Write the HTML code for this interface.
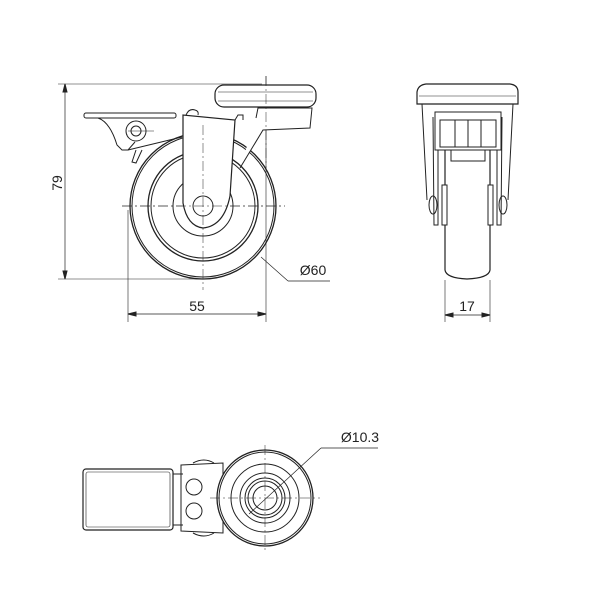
<!DOCTYPE html>
<html><head><style>body{margin:0;background:#fff}</style></head><body>
<svg width="600" height="600" viewBox="0 0 600 600" xmlns="http://www.w3.org/2000/svg" font-family="Liberation Sans, sans-serif">
<g fill="none" stroke="#222" stroke-width="1">
<!-- SIDE VIEW -->
<line x1="58" y1="84" x2="262" y2="84" stroke-width="0.6"/>
<line x1="58" y1="279" x2="200" y2="279" stroke-width="0.6"/>
<line x1="65" y1="84" x2="65" y2="279" stroke-width="0.7"/>
<path d="M65 84 l-2 8 h4z M65 279 l-2 -8 h4z" fill="#222"/>
<line x1="128" y1="210" x2="128" y2="322" stroke-width="0.6"/>
<line x1="266" y1="76" x2="266" y2="322" stroke-width="0.6"/>
<line x1="128" y1="314" x2="266" y2="314" stroke-width="0.7"/>
<path d="M128 314 l8 -2 v4z M266 314 l-8 -2 v4z" fill="#222"/>
<line x1="261" y1="257" x2="288" y2="281" stroke-width="0.7"/>
<line x1="288" y1="281" x2="330" y2="281" stroke-width="0.7"/>
<circle cx="203" cy="206" r="73" stroke-width="1.3"/>
<circle cx="203" cy="206" r="71"/>
<circle cx="203" cy="206" r="55" stroke-width="1.3"/>
<circle cx="203" cy="206" r="52"/>
<circle cx="203" cy="206" r="30"/>
<line x1="122" y1="206" x2="285" y2="206" stroke-width="0.5" stroke-dasharray="10,3,2,3"/>
<!-- neck -->
<path d="M256 118 L258 108 L312 108 L310 128 L263 130 L240 168" fill="#fff"/>
<!-- fork -->
<path d="M183 115 L183 203 Q187 226 203 228 Q224 226 230 196 L235 120 Z" fill="#fff" stroke-width="1.2"/>
<path d="M235 120 L238 115 L243 115 L243 120"/>
<circle cx="203" cy="206" r="10" fill="#fff"/>
<line x1="203" y1="125" x2="203" y2="290" stroke-width="0.5" stroke-dasharray="10,3,2,3"/>
<line x1="122" y1="206" x2="285" y2="206" stroke-width="0.5" stroke-dasharray="10,3,2,3"/>
<rect x="215" y="85" width="101" height="22" rx="9" fill="#fff" stroke-width="1.2"/>
<line x1="218" y1="92" x2="313" y2="92" stroke-width="0.6"/>
<line x1="218" y1="101" x2="313" y2="101" stroke-width="0.6"/>
<line x1="266" y1="76" x2="266" y2="170" stroke-width="0.5" stroke-dasharray="10,3,2,3"/>
<!-- brake -->
<rect x="84" y="113" width="92" height="5" rx="2" fill="#fff"/>
<path d="M98 118 Q110 122 117 145 L122 150 L128 150 L135 142" />
<path d="M128 150 L182 137"/>
<circle cx="136" cy="131" r="10"/>
<circle cx="136" cy="131" r="5"/>
<line x1="128" y1="131" x2="154" y2="131" stroke-width="0.5"/>
<path d="M186 115 Q189 108 195 110 Q199 111 198 115"/>
<path d="M136 150 L132 162 L136 163 L142 150"/>
<!-- FRONT VIEW -->
<path d="M445 150 L445 270 Q446 278 467 279 Q489 278 490 270 L490 150" fill="#fff" stroke-width="1.2"/>
<path d="M417 104 L417 92 Q418 85 426 84 L510 84 Q518 85 518 92 L518 104 Z" stroke-width="1.2"/>
<line x1="419" y1="96" x2="516" y2="96" stroke-width="0.6"/>
<path d="M422 104 L427 200 M513 104 L508 200"/>
<path d="M433 117 L434 225 L438 225 L438 150 M502 117 L501 225 L497 225 L497 150"/>
<rect x="435" y="112" width="66" height="38" />
<rect x="440" y="120" width="56" height="27" />
<line x1="455" y1="120" x2="455" y2="147"/><line x1="481" y1="120" x2="481" y2="147"/>
<line x1="468" y1="120" x2="468" y2="147"/>
<rect x="451" y="150" width="34" height="11"/>
<rect x="442" y="185" width="5" height="40" fill="#fff"/>
<rect x="488" y="185" width="5" height="40" fill="#fff"/>
<ellipse cx="433" cy="205" rx="4" ry="9"/><ellipse cx="503" cy="205" rx="4" ry="9"/>
<line x1="445" y1="280" x2="445" y2="322" stroke-width="0.6"/>
<line x1="490" y1="280" x2="490" y2="322" stroke-width="0.6"/>
<line x1="445" y1="315" x2="490" y2="315" stroke-width="0.7"/>
<path d="M445 315 l8 -2 v4z M490 315 l-8 -2 v4z" fill="#222"/>
<!-- BOTTOM VIEW -->
<rect x="83" y="469" width="90" height="61" rx="3" stroke-width="1.2"/>
<rect x="86" y="472" width="84" height="55" rx="2" stroke-width="0.6"/>
<path d="M173 474 L183 474 M173 525 L183 525"/>
<path d="M181 465 L223 463 L223 533 L181 531 Z" stroke-width="1"/>
<circle cx="194" cy="487" r="8"/><circle cx="194" cy="511" r="8"/>
<path d="M193 463 Q204 457 214 463 M193 533 Q204 539 214 533"/>
<circle cx="265" cy="498" r="48" fill="#fff" stroke-width="1.3"/>
<circle cx="265" cy="498" r="46"/>
<circle cx="265" cy="498" r="34"/>
<circle cx="265" cy="498" r="25"/>
<circle cx="265" cy="498" r="20"/>
<circle cx="265" cy="498" r="17"/>
<circle cx="265" cy="498" r="12"/>
<line x1="210" y1="498" x2="320" y2="498" stroke-width="0.5" stroke-dasharray="10,3,2,3"/>
<line x1="265" y1="445" x2="265" y2="552" stroke-width="0.5" stroke-dasharray="10,3,2,3"/>
<line x1="249" y1="514" x2="321" y2="448" stroke-width="0.7"/>
<line x1="321" y1="448" x2="378" y2="448" stroke-width="0.7"/>
</g>
<g fill="#222" font-size="14">
<text x="197" y="311" text-anchor="middle">55</text>
<text x="467" y="311" text-anchor="middle">17</text>
<text x="313" y="275" text-anchor="middle">Ø60</text>
<text x="360" y="442" text-anchor="middle">Ø10.3</text>
<text transform="translate(62 183) rotate(-90)" text-anchor="middle">79</text>
</g>
</svg>
</body></html>
